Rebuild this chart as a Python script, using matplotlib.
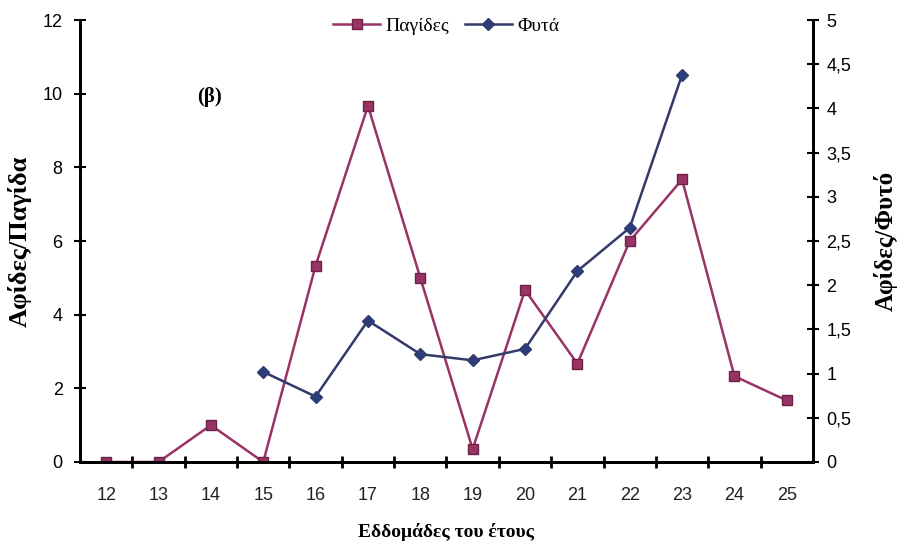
import matplotlib
matplotlib.use('Agg')
import matplotlib.pyplot as plt
from matplotlib.ticker import FixedLocator, FuncFormatter

# Weeks of the year
weeks = [12, 13, 14, 15, 16, 17, 18, 19, 20, 21, 22, 23, 24, 25]

# Aphids per trap (left axis)
traps = [0, 0, 1.0, 0, 5.33, 9.67, 5.0, 0.35, 4.67, 2.67, 6.0, 7.67, 2.33, 1.67]

# Aphids per plant (right axis), weeks 15-23
plant_weeks = [15, 16, 17, 18, 19, 20, 21, 22, 23]
plants = [1.02, 0.74, 1.6, 1.22, 1.15, 1.28, 2.16, 2.65, 4.38]

trap_color = '#993366'
plant_color = '#333a6b'
serif = 'Liberation Serif'
sans = 'Liberation Sans'

fig = plt.figure(figsize=(9.03, 5.47), dpi=100)
ax = fig.add_axes([0.0886, 0.1554, 0.8117, 0.808])
ax2 = ax.twinx()

l1, = ax.plot(weeks, traps, color=trap_color, lw=1.8, marker='s', ms=7.5,
              mfc=trap_color, mec='#6b2246', mew=1, label='Παγίδες')
l2, = ax2.plot(plant_weeks, plants, color=plant_color, lw=1.8, marker='D', ms=6,
               mfc='#2c3e7a', mec=plant_color, label='Φυτά')

ax.set_xlim(11.5, 25.5)
ax.set_ylim(0, 12)
ax2.set_ylim(0, 5)

# category labels without marks, marks between categories
ax.set_xticks(weeks)
ax.set_xticklabels([str(w) for w in weeks], fontsize=13, family=sans, color='#222222')
ax.tick_params(axis='x', which='major', length=0, pad=18)
ax.xaxis.set_minor_locator(FixedLocator([w + 0.5 for w in weeks[:-1]]))
ax.tick_params(axis='x', which='minor', length=8, width=2, direction='inout')

ax.set_yticks(range(0, 13, 2))
ax.tick_params(axis='y', length=9, width=1.5, direction='inout', labelsize=13, pad=8)
for lbl in ax.get_yticklabels():
    lbl.set_family(sans)

ax2.set_yticks([i * 0.5 for i in range(11)])
ax2.yaxis.set_major_formatter(FuncFormatter(lambda v, p: ('%g' % v).replace('.', ',')))
ax2.tick_params(axis='y', length=9, width=1.5, direction='inout', labelsize=13, pad=5)
for lbl in ax2.get_yticklabels():
    lbl.set_family(sans)

for a in (ax, ax2):
    a.spines['top'].set_visible(False)
    a.spines['left'].set_linewidth(2)
    a.spines['right'].set_linewidth(2)
    a.spines['bottom'].set_linewidth(2)

ax.set_ylabel('Αφίδες/Παγίδα', fontsize=19, fontweight='bold', family=serif, labelpad=8)
ax2.set_ylabel('Αφίδες/Φυτό', fontsize=18, fontweight='bold', family=serif, labelpad=16)
ax.set_xlabel('Εδδομάδες του έτους', fontsize=14, fontweight='bold', family=serif, labelpad=14)

ax.text(13.98, 9.92, '(β)', fontsize=15, fontweight='bold', family=serif,
        ha='center', va='center')

leg = ax.legend(handles=[l1, l2], loc='upper center', bbox_to_anchor=(0.5, 1.045),
                ncol=2, frameon=False, prop={'family': serif, 'size': 14},
                handlelength=2.4, handletextpad=0.3, columnspacing=0.8)

fig.savefig('out.png', dpi=100)
